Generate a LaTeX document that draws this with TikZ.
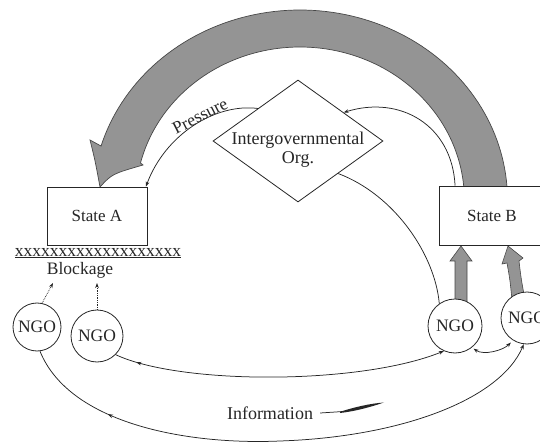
\documentclass[tikz,border=0pt]{standalone}
\usepackage{fontspec}
\setmainfont{Liberation Serif}
\usetikzlibrary{arrows.meta,shapes.geometric,decorations.markings,calc}
\definecolor{ink}{gray}{0.15}
\definecolor{band}{gray}{0.58}
\definecolor{bandline}{gray}{0.28}
\newcommand\fsz{\fontsize{17.5}{19}\selectfont}
\newcommand\fsb{\fontsize{18}{19}\selectfont}
\newcommand\fst{\fontsize{17}{18}\selectfont}
\begin{document}
\begin{tikzpicture}[x=1pt,y=-1pt,
  conn/.style={draw=ink, line width=0.75pt},
  tip/.style={-{Stealth[length=5pt,width=3.6pt]}},
  statebox/.style={draw=ink, fill=white, line width=0.8pt, minimum width=100pt, minimum height=58pt, inner sep=0pt, font=\fst, text=ink},
  ngo/.style={circle, draw=ink, fill=white, line width=0.8pt, inner sep=0pt, font=\fsz, text=ink},
  lbl/.style={font=\fsz, text=ink, inner sep=0pt},
  grayarrow/.style={fill=band, draw=bandline, line width=0.6pt},
  backmark/.style={postaction={decorate}, decoration={markings, mark=at position #1 with {\arrowreversed{Stealth[length=5pt,width=3.6pt]}}}},
]
\useasboundingbox (0,0) rectangle (540,443);

% big pressure arrow
\filldraw[grayarrow, line width=0.7pt]
  plot[domain=4:163.5, samples=90, variable=\t] ({300+207.5*cos(\t)},{200-190*sin(\t)})
  -- (90,140) .. controls (95,160) .. (100,187)
  .. controls (112,174) .. (143,165)
  -- plot[domain=166:5, samples=90, variable=\t] ({300+164.4*cos(\t)},{200-153*sin(\t)}) -- cycle;

% small gray arrows NGO -> State B
\filldraw[grayarrow] (455,305) -- (455,261) -- (450,261) -- (461,246) -- (472,261) -- (467,261) -- (467,305) -- cycle;
\filldraw[grayarrow] (512,300) .. controls (510,280) .. (507,263) -- (502,264) -- (508,246) -- (523,258) -- (519,261) .. controls (521,278) .. (525,300) -- cycle;

% nodes
\node[statebox] (sa) at (97,216) {State A};
\node[statebox, minimum width=106pt, minimum height=59pt] (sb) at (492,215.5) {State B};
\node[diamond, draw=ink, fill=white, line width=0.8pt, minimum width=170pt, minimum height=122pt, inner sep=0pt] (igo) at (298,141) {};
\node[lbl, font=\fsb, align=center] (igotext) at (298,150) {Intergovernmental\\Org.};

\node[ngo, minimum size=48pt] (n1) at (37,327) {NGO};
\node[ngo, minimum size=52pt] (n2) at (97,336) {NGO};
\node[ngo, minimum size=54pt] (n3) at (455,326) {NGO};
\node[ngo, minimum size=52pt] (n4) at (527,318) {NGO};

\node[lbl] (xrow) at (98,253) {\underline{xxxxxxxxxxxxxxxxxxx}};
\node[lbl] (block) at (80,270) {Blockage};
\node[lbl, font=\fsb] (info) at (270,413) {Information};
\node[lbl, rotate=27] (press) at (200,116) {Pressure};

% blockage arrows
\coordinate (b1) at (53,283);
\coordinate (b2) at (97,283);
\draw[conn, densely dotted, tip] (n1.78) -- (b1);
\draw[conn, densely dotted, tip] (n2.90) -- (b2);

% thin connectors
\draw[conn, tip] (igo.141) .. controls (215,103) and (165,135) .. (sa.31);
\draw[conn, tip] (sb.141) .. controls (452,125) and (400,95) .. (igo.32.5);
\draw[conn] (igo.-39) .. controls (395,195) and (435,255) .. (n3.125);

% information flows
\draw[conn, tip, backmark=22pt] (n2.-45) .. controls (180,385) and (360,385) .. (n3.-114);
\draw[conn, tip, backmark=95pt] (n1.-83) .. controls (70,425) and (190,445) .. (280,441)
  .. controls (400,437) and (500,400) .. (n4.-97);
\draw[conn, {Stealth[length=5pt,width=3.6pt]}-{Stealth[length=5pt,width=3.6pt]}, shorten <=2pt, shorten >=3pt]
  (n3.-52) .. controls +(12,8) and +(-10,10) .. (n4.-122);

% information pointer
\coordinate (p1) at (343,411.5);
\draw[conn] ([xshift=7pt]info.east) -- (p1);
\fill[ink] (340,411.8) .. controls (355,407) and (370,403.5) .. (384,402.5)
  .. controls (372,406.5) and (357,411) .. (340,413) -- cycle;
\end{tikzpicture}
\end{document}
